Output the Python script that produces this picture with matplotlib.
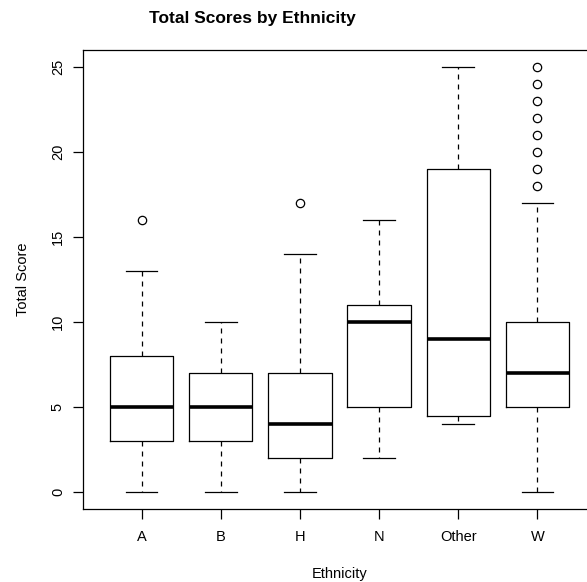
import matplotlib.pyplot as plt

# boxplot stats
groups = ["A", "B", "H", "N", "Other", "W"]
whisk_lo = [0, 0, 0, 2, 4, 0]
q1 = [3, 3, 2, 5, 4.5, 5]
med = [5, 5, 4, 10, 9, 7]
q3 = [8, 7, 7, 11, 19, 10]
whisk_hi = [13, 10, 14, 16, 25, 17]
outliers = [[16], [], [17], [], [], [18, 19, 20, 21, 22, 23, 24, 25]]

plt.rcParams['font.family'] = ['Liberation Sans', 'DejaVu Sans']

fig = plt.figure(figsize=(5.87, 5.82), dpi=100)
# plot region runs past the right edge of the image, as in the reference
ax = fig.add_axes([83 / 587, 1 - 509 / 582, (596 - 83) / 587, (509 - 50) / 582])

stats = []
for i, g in enumerate(groups):
    stats.append(dict(label=g, whislo=whisk_lo[i], q1=q1[i], med=med[i],
                      q3=q3[i], whishi=whisk_hi[i], fliers=outliers[i]))

ax.bxp(stats, positions=range(1, 7), widths=0.8,
       boxprops=dict(color="black", linewidth=0.9),
       medianprops=dict(color="black", linewidth=2.6, solid_capstyle="butt"),
       whiskerprops=dict(color="black", linewidth=0.9, linestyle=(0, (4, 4))),
       capprops=dict(color="black", linewidth=0.9),
       capwidths=0.4,
       flierprops=dict(marker="o", markerfacecolor="none", markeredgecolor="black",
                       markersize=6, markeredgewidth=0.9))

ax.set_xlim(0.26, 6.74)
ax.set_ylim(-1, 26)
ax.set_yticks([0, 5, 10, 15, 20, 25])
ax.set_yticklabels(["0", "5", "10", "15", "20", "25"], rotation=90, va="center")
ax.tick_params(direction="out", length=7, width=0.9, labelsize=10.5, pad=8)
ax.tick_params(axis="y", pad=6)
for s in ax.spines.values():
    s.set_linewidth(0.9)

ax.set_xlabel("Ethnicity", fontsize=10.5, labelpad=17)
ax.set_ylabel("Total Score", fontsize=10.5, labelpad=15)
fig.text(252 / 587, 1 - 18 / 582, "Total Scores by Ethnicity", fontsize=12.5,
         fontweight="bold", ha="center", va="center")

fig.savefig("out.png", dpi=100)
